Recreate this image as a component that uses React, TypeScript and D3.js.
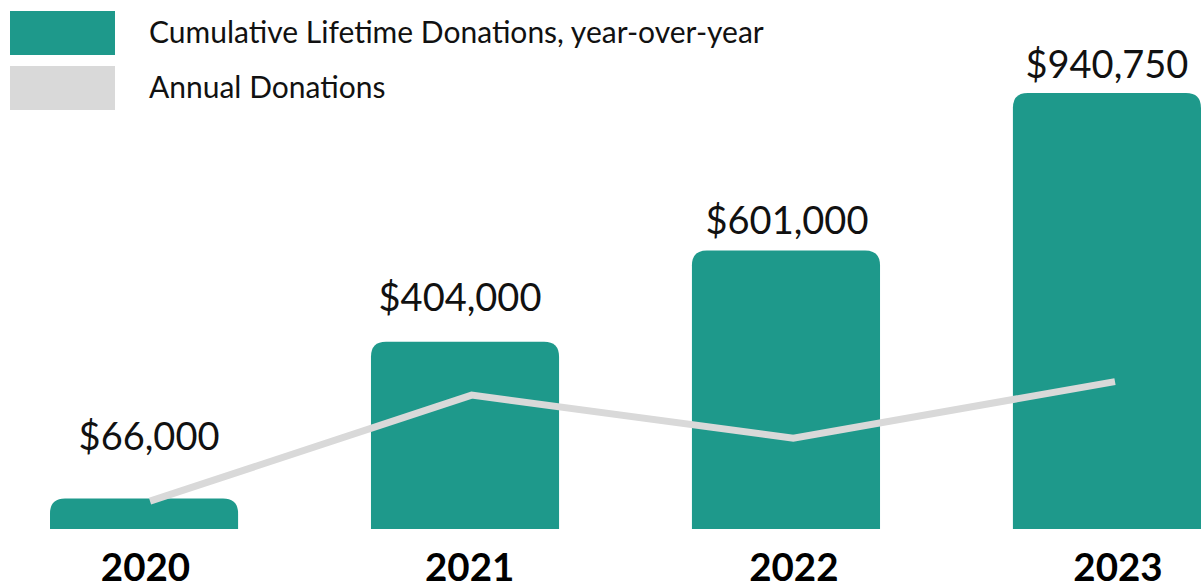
import React, { useEffect, useRef } from 'react';
import * as d3 from 'd3';

const years = ['2020', '2021', '2022', '2023'];
const cumulative = [66000, 404000, 601000, 940750];
const annual = [60000, 289000, 196000, 318000];
const legendLabels = ['Cumulative Lifetime Donations, year-over-year', 'Annual Donations'];

const TEAL = '#1e998b';
const GREY = '#d9d9d9';
const FONT = 'Lato, "Open Sans", sans-serif';

const W = 1202;
const H = 583;

// hand-placed nudges for the value labels (gap above bar top, horizontal shift)
const labelGap = [48, 31, 16, 15];
const labelDx = [5, -5, 1, 0];

export default function App() {
  const svgRef = useRef<SVGSVGElement>(null);

  useEffect(() => {
    if (!svgRef.current) return;
    const svg = d3.select(svgRef.current);
    svg.selectAll('*').remove();

    const x = d3.scaleBand<string>().domain(years).range([50, 1201]).paddingInner(0.414).paddingOuter(0);
    const xLine = d3.scalePoint<string>().domain(years).range([150, 1115]);
    const xLabel = d3.scalePoint<string>().domain(years).range([145.5, 1118]);
    const y = d3.scaleLinear().domain([0, 940750]).range([529, 93]);
    const r = 15;

    // bars with rounded top corners
    const barPath = (v: number, yr: string) => {
      const x0 = x(yr)!;
      const x1 = x0 + x.bandwidth();
      const top = y(v);
      const bottom = y(0);
      const rr = Math.min(r, bottom - top);
      return `M${x0},${bottom}V${top + rr}Q${x0},${top} ${x0 + rr},${top}H${x1 - rr}Q${x1},${top} ${x1},${top + rr}V${bottom}Z`;
    };

    svg.append('g')
      .selectAll('path')
      .data(years)
      .join('path')
      .attr('d', (d, i) => barPath(cumulative[i], d))
      .attr('fill', TEAL);

    // value labels
    svg.append('g')
      .selectAll('text')
      .data(years)
      .join('text')
      .attr('x', (d, i) => x(d)! + x.bandwidth() / 2 + labelDx[i])
      .attr('y', (d, i) => y(cumulative[i]) - labelGap[i])
      .attr('text-anchor', 'middle')
      .style('font-family', FONT)
      .style('font-size', '38px')
      .style('fill', '#111')
      .text((d, i) => '$' + d3.format(',')(cumulative[i]));

    // annual line
    const line = d3.line<number>()
      .x((d, i) => xLine(years[i])!)
      .y(d => y(d));
    svg.append('path')
      .datum(annual)
      .attr('d', line)
      .attr('fill', 'none')
      .attr('stroke', GREY)
      .attr('stroke-width', 7);

    // year labels
    svg.append('g')
      .selectAll('text')
      .data(years)
      .join('text')
      .attr('x', d => xLabel(d)!)
      .attr('y', 581)
      .attr('text-anchor', 'middle')
      .style('font-family', FONT)
      .style('font-size', '38.5px')
      .style('font-weight', 'bold')
      .style('fill', '#000')
      .text(d => d);

    // legend
    const legend = svg.append('g');
    const colors = [TEAL, GREY];
    legendLabels.forEach((label, i) => {
      legend.append('rect')
        .attr('x', 10)
        .attr('y', 11 + i * 55)
        .attr('width', 105)
        .attr('height', 44)
        .attr('fill', colors[i]);
      legend.append('text')
        .attr('x', 149)
        .attr('y', 43 + i * 55)
        .style('font-family', FONT)
        .style('font-size', '30px')
        .style('fill', '#111')
        .text(label);
    });
  }, []);

  return (
    <svg
      ref={svgRef}
      width={W}
      height={H}
      style={{ position: 'absolute', left: 0, top: 0, background: '#fff' }}
    />
  );
}
